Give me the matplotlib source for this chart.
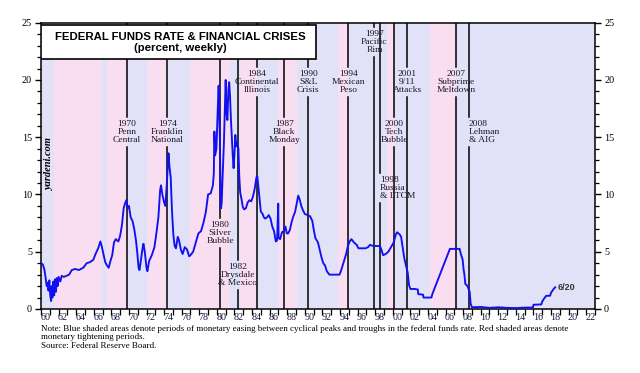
import matplotlib
matplotlib.use("Agg")
import matplotlib.pyplot as plt
from matplotlib.ticker import FixedLocator, FixedFormatter, NullFormatter
from matplotlib.patches import Rectangle

# ---------------- data ----------------
years = [
    1960.0, 1960.2, 1960.4, 1960.55, 1960.65, 1960.75, 1960.85, 1960.95, 1961.05, 1961.15,
    1961.22, 1961.3, 1961.4, 1961.5, 1961.6, 1961.7, 1961.8, 1961.9, 1962.0, 1962.2,
    1962.35, 1962.6, 1962.9, 1963.2, 1963.5, 1963.9, 1964.3, 1964.8, 1965.2, 1965.6,
    1965.95, 1966.2, 1966.5, 1966.75, 1966.9, 1967.1, 1967.3, 1967.5, 1967.7, 1967.9,
    1968.1, 1968.3, 1968.5, 1968.8, 1969.0, 1969.2, 1969.4, 1969.55, 1969.7, 1969.85,
    1970.0, 1970.2, 1970.4, 1970.6, 1970.8, 1970.95, 1971.1, 1971.2, 1971.35, 1971.55,
    1971.65, 1971.8, 1972.0, 1972.1, 1972.3, 1972.6, 1972.9, 1973.1, 1973.35, 1973.55,
    1973.65, 1973.8, 1974.0, 1974.15, 1974.35, 1974.5, 1974.6, 1974.75, 1974.9, 1975.05,
    1975.2, 1975.35, 1975.55, 1975.7, 1975.9, 1976.1, 1976.35, 1976.6, 1976.85, 1977.0,
    1977.3, 1977.6, 1977.9, 1978.2, 1978.5, 1978.75, 1979.0, 1979.3, 1979.55, 1979.65,
    1979.72, 1979.8, 1979.95, 1980.1, 1980.2, 1980.27, 1980.35, 1980.42, 1980.48, 1980.55,
    1980.65, 1980.8, 1980.95, 1981.0, 1981.1, 1981.2, 1981.3, 1981.4, 1981.5, 1981.6,
    1981.7, 1981.8, 1981.9, 1982.0, 1982.1, 1982.2, 1982.3, 1982.45, 1982.55, 1982.65,
    1982.8, 1982.95, 1983.1, 1983.3, 1983.5, 1983.7, 1983.9, 1984.1, 1984.3, 1984.5,
    1984.6, 1984.7, 1984.85, 1985.0, 1985.2, 1985.35, 1985.5, 1985.7, 1985.9, 1986.1,
    1986.3, 1986.5, 1986.7, 1986.85, 1986.98, 1987.02, 1987.2, 1987.4, 1987.6, 1987.8,
    1987.95, 1988.1, 1988.3, 1988.5, 1988.7, 1988.9, 1989.1, 1989.25, 1989.4, 1989.6,
    1989.8, 1990.0, 1990.3, 1990.6, 1990.85, 1991.0, 1991.2, 1991.5, 1991.75, 1991.9,
    1992.1, 1992.3, 1992.5, 1992.8, 1993.2, 1993.6, 1993.95, 1994.1, 1994.3, 1994.5,
    1994.7, 1994.9, 1995.1, 1995.3, 1995.6, 1995.9, 1996.1, 1996.5, 1996.9, 1997.2,
    1997.4, 1997.8, 1998.2, 1998.55, 1998.75, 1998.9, 1999.2, 1999.5, 1999.8, 2000.1,
    2000.35, 2000.5, 2000.8, 2000.95, 2001.1, 2001.3, 2001.5, 2001.7, 2001.85, 2002.0,
    2002.5, 2002.85, 2002.9, 2003.45, 2003.5, 2004.4, 2004.5, 2006.5, 2007.6, 2007.75,
    2007.95, 2008.05, 2008.15, 2008.25, 2008.5, 2008.75, 2008.85, 2009.0, 2010.0, 2011.0,
    2012.0, 2013.0, 2014.0, 2015.0, 2015.95, 2016.0, 2016.9, 2017.0, 2017.2, 2017.45,
    2017.9, 2018.0, 2018.25, 2018.47,
]
rates = [
    4.0, 3.9, 3.4, 2.6, 2.0, 2.3, 1.6, 2.5, 1.2, 0.7,
    2.0, 1.0, 2.4, 1.2, 2.6, 1.5, 2.7, 2.0, 2.8, 2.4,
    2.9, 2.8, 2.9, 3.0, 3.4, 3.5, 3.4, 3.6, 4.0, 4.1,
    4.3, 4.8, 5.3, 5.9, 5.5, 4.8, 4.1, 3.8, 3.6, 4.2,
    4.7, 5.8, 6.1, 5.9, 6.4, 7.3, 8.8, 9.2, 9.5, 8.8,
    9.0, 8.0, 7.7, 7.0, 6.0, 4.9, 3.6, 3.4, 4.2, 5.3,
    5.7, 5.0, 3.6, 3.3, 4.2, 4.7, 5.4, 6.5, 8.0, 10.4,
    10.8, 10.0, 9.3, 9.0, 11.5, 13.6, 12.5, 11.5, 8.5, 6.5,
    5.5, 5.3, 6.3, 6.0, 5.2, 4.8, 5.4, 5.2, 4.6, 4.7,
    5.0, 5.8, 6.6, 6.8, 7.6, 8.5, 10.0, 10.1, 10.8, 11.8,
    15.5, 13.4, 14.0, 17.5, 19.5, 17.0, 14.5, 10.0, 8.8, 9.3,
    11.5, 14.5, 18.5, 20.0, 17.0, 16.5, 19.0, 19.8, 18.5, 16.5,
    15.0, 13.5, 12.3, 13.5, 15.2, 14.2, 14.6, 14.0, 11.5, 10.2,
    9.6, 8.9, 8.7, 8.8, 9.3, 9.5, 9.4, 9.8, 10.5, 11.5,
    11.6, 10.8, 9.7, 8.5, 8.3, 8.0, 7.9, 8.0, 8.2, 7.9,
    7.2, 6.8, 5.9, 6.0, 9.2, 6.2, 6.1, 6.7, 6.8, 7.2,
    6.6, 6.6, 6.9, 7.6, 8.1, 8.5, 9.3, 9.9, 9.6, 9.0,
    8.6, 8.3, 8.2, 8.1, 7.7, 7.0, 6.2, 5.8, 5.0, 4.5,
    4.0, 3.8, 3.3, 3.0, 3.0, 3.0, 3.0, 3.3, 3.8, 4.3,
    4.8, 5.5, 5.9, 6.1, 5.8, 5.6, 5.3, 5.3, 5.3, 5.4,
    5.6, 5.5, 5.5, 5.5, 5.1, 4.7, 4.8, 5.0, 5.4, 5.8,
    6.5, 6.7, 6.5, 6.3, 5.5, 4.5, 3.8, 3.2, 2.1, 1.75,
    1.75, 1.7, 1.3, 1.25, 1.0, 1.0, 1.3, 5.25, 5.25, 4.8,
    4.3, 3.5, 3.0, 2.2, 2.0, 1.5, 0.5, 0.15, 0.18, 0.1,
    0.15, 0.1, 0.08, 0.12, 0.13, 0.37, 0.4, 0.65, 0.9, 1.15,
    1.16, 1.42, 1.7, 1.9,
]

# monetary cycle shading: (start, end, kind) kind: 'E' easing (blue), 'T' tightening (red)
band_start = [1960.0, 1961.5, 1966.9, 1967.5, 1969.75, 1972.0, 1974.4, 1977.0,
              1981.5, 1982.6, 1984.54, 1987.0, 1989.1, 1993.8, 1994.96, 1999.3,
              2000.2, 2004.25, 2007.18]
band_end = [1961.5, 1966.9, 1967.5, 1969.75, 1972.0, 1974.4, 1977.0, 1981.5,
            1982.6, 1984.54, 1987.0, 1989.1, 1993.8, 1994.96, 1999.3, 2000.2,
            2004.25, 2007.18, 2023.0]
band_kind = ['E', 'T', 'E', 'T', 'E', 'T', 'E', 'T',
             'E', 'T', 'E', 'T', 'E', 'T', 'E', 'T',
             'E', 'T', 'E']

# crisis events: date of line, label, label centre (value units), alignment
crisis_date = [1969.75, 1974.37, 1980.36, 1982.38, 1984.54, 1987.68, 1990.41,
               1994.96, 1997.92, 1998.57, 2000.16, 2001.64, 2007.18, 2008.66]
crisis_label = ["1970\nPenn\nCentral", "1974\nFranklin\nNational", "1980\nSilver\nBubble",
                "1982\nDrysdale\n& Mexico", "1984\nContinental\nIllinois", "1987\nBlack\nMonday",
                "1990\nS&L\nCrisis", "1994\nMexican\nPeso", "1997\nPacific\nRim",
                "1998\nRussia\n& LTCM", "2000\nTech\nBubble", "2001\n9/11\nAttacks",
                "2007\nSubprime\nMeltdown", "2008\nLehman\n& AIG"]
crisis_texty = [15.43, 15.43, 6.66, 2.94, 19.83, 15.43, 19.83,
                19.83, 23.3, 10.57, 15.43, 19.83, 19.83, 15.43]
crisis_align = ['center', 'center', 'center', 'center', 'center', 'center', 'center',
                'center', 'center', 'left', 'center', 'center', 'center', 'left']

ytick_vals = [0, 5, 10, 15, 20, 25]
xlabel_years = list(range(1960, 2023, 2))
xlabel_text = ["%02d" % (y % 100) for y in xlabel_years]

# ---------------- figure ----------------
fig = plt.figure(figsize=(6.4, 3.73), dpi=100)
ax = fig.add_axes([41 / 640, 64 / 373, 554 / 640, 286.3 / 373])
ax.set_xlim(1960, 2023)
ax.set_ylim(0, 25)

PINK = '#f9ddf1'
BLUE = '#e1e1f8'
for s, e, k in zip(band_start, band_end, band_kind):
    ax.axvspan(s, e, color=BLUE if k == 'E' else PINK, lw=0, zorder=0)

serif = ['Liberation Serif', 'DejaVu Serif']
sans = ['Liberation Sans', 'DejaVu Sans']

gap = 1.3
for d, lab, ty, al in zip(crisis_date, crisis_label, crisis_texty, crisis_align):
    ax.plot([d, d], [0, ty - gap], color='black', lw=1.1, zorder=2)
    ax.plot([d, d], [ty + gap, 25], color='black', lw=1.1, zorder=2)
    ax.text(d, ty, lab, ha=al, va='center', fontsize=6.8, family=serif,
            color='#1a1a2a', linespacing=1.0, zorder=5)

ax.plot(years, rates, color='#1010f0', lw=1.35, zorder=3)

# title box
box = Rectangle((1960, 21.83), 31.29, 2.97, facecolor='white', edgecolor='black',
                lw=1.2, zorder=6)
ax.add_patch(box)
ax.text(1975.8, 23.78, "FEDERAL FUNDS RATE & FINANCIAL CRISES", ha='center', va='center',
        fontsize=8.2, fontweight='bold', family=sans, zorder=7)
ax.text(1975.8, 22.77, "(percent, weekly)", ha='center', va='center',
        fontsize=8.2, fontweight='bold', family=sans, zorder=7)

ax.text(1960.95, 12.66, "yardeni.com", rotation=90, ha='center', va='center',
        fontsize=7.5, fontweight='bold', fontstyle='italic', family=serif, zorder=5)
ax.text(2018.7, 1.9, "6/20", ha='left', va='center', fontsize=6.5,
        fontweight='bold', family=sans, color='#333333', zorder=5)

# axes styling
for sp in ax.spines.values():
    sp.set_linewidth(1.1)
ax.yaxis.set_major_locator(FixedLocator(ytick_vals))
ax.yaxis.set_minor_locator(FixedLocator(list(range(0, 26))))
ax.tick_params(axis='y', which='both', left=True, right=True, labelleft=True,
               labelright=True, direction='out', labelsize=7.3, pad=2)
ax.tick_params(axis='y', which='major', length=4.5, width=1)
ax.tick_params(axis='y', which='minor', length=3, width=0.9)
for t in ax.get_yticklabels():
    t.set_family(serif)

ax.xaxis.set_major_locator(FixedLocator(list(range(1960, 2024))))
ax.xaxis.set_major_formatter(NullFormatter())
ax.xaxis.set_minor_locator(FixedLocator([y + 0.5 for y in xlabel_years]))
ax.xaxis.set_minor_formatter(FixedFormatter(xlabel_text))
ax.tick_params(axis='x', which='major', direction='out', length=4, width=0.9)
ax.tick_params(axis='x', which='minor', length=0, labelsize=7.3, pad=3, labelcolor='#1a1a40')
for t in ax.get_xticklabels(minor=True):
    t.set_family(serif)

fig.text(41 / 640, 1 - 337.3 / 373,
         "Note: Blue shaded areas denote periods of monetary easing between cyclical peaks and troughs in the federal funds rate. Red shaded areas denote\nmonetary tightening periods.\nSource: Federal Reserve Board.",
         ha='left', va='center', fontsize=6.5, family=serif, linespacing=1.05)

fig.savefig("out.png", dpi=100)
